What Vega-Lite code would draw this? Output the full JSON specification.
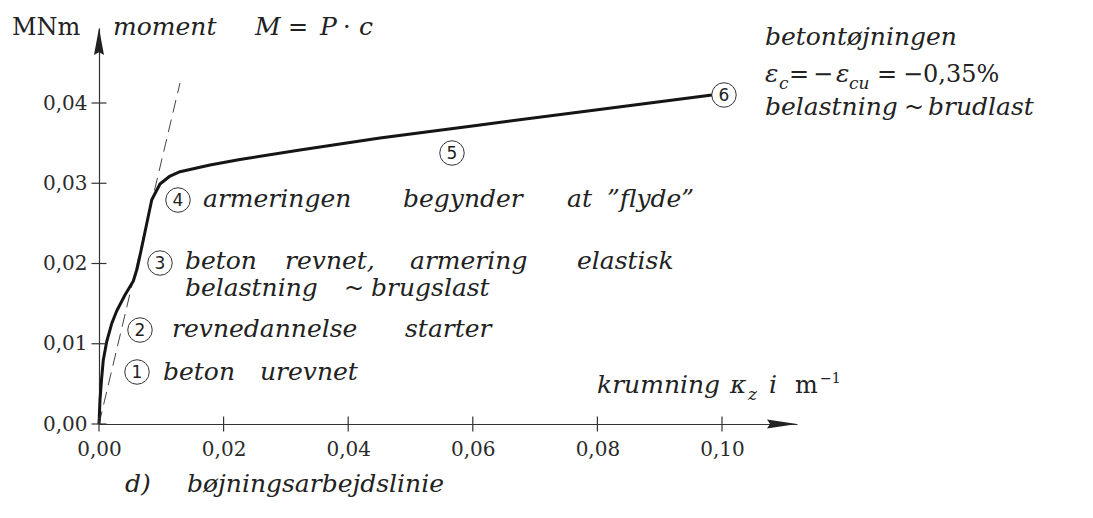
{
  "$schema": "https://vega.github.io/schema/vega-lite/v6.json",
  "width": 698,
  "height": 396,
  "autosize": {"type": "none"},
  "padding": {"left": 99, "top": 28, "right": 296, "bottom": 94},
  "background": "white",
  "config": {
    "view": {"stroke": null},
    "text": {"font": "DejaVu Serif", "color": "#222"}
  },
  "datasets": {
    "curve": [
      {"x": 0, "y": 0},
      {"x": 0.00016, "y": 0.00299},
      {"x": 0.0004, "y": 0.00548},
      {"x": 0.00069, "y": 0.00798},
      {"x": 0.00124, "y": 0.01028},
      {"x": 0.00204, "y": 0.01252},
      {"x": 0.00284, "y": 0.01408},
      {"x": 0.00417, "y": 0.01607},
      {"x": 0.00551, "y": 0.01782},
      {"x": 0.00615, "y": 0.01944},
      {"x": 0.00711, "y": 0.02293},
      {"x": 0.00846, "y": 0.02791},
      {"x": 0.00872, "y": 0.02832},
      {"x": 0.00979, "y": 0.02991},
      {"x": 0.0114, "y": 0.0309},
      {"x": 0.013, "y": 0.03144},
      {"x": 0.01782, "y": 0.03227},
      {"x": 0.02263, "y": 0.03296},
      {"x": 0.03226, "y": 0.03414},
      {"x": 0.0451, "y": 0.03564},
      {"x": 0.06116, "y": 0.03726},
      {"x": 0.07721, "y": 0.03888},
      {"x": 0.09839, "y": 0.041}
    ],
    "guide": [
      {"x": 0, "y": 0},
      {"x": 0.013, "y": 0.04249}
    ],
    "xticks": [
      {"x": 0, "y": 0}, {"x": 0.02, "y": 0}, {"x": 0.04, "y": 0},
      {"x": 0.06, "y": 0}, {"x": 0.08, "y": 0}, {"x": 0.1, "y": 0}
    ],
    "yticks": [
      {"x": 0, "y": 0}, {"x": 0, "y": 0.01}, {"x": 0, "y": 0.02},
      {"x": 0, "y": 0.03}, {"x": 0, "y": 0.04}
    ],
    "yarrow": [{"x": 0, "y": 0.049346}],
    "xarrow": [{"x": 0.11204, "y": 0}],
    "rings": [
      {"x": 0.0061, "y": 0.00648, "n": "1"},
      {"x": 0.00658, "y": 0.01171, "n": "2"},
      {"x": 0.00979, "y": 0.02006, "n": "3"},
      {"x": 0.01268, "y": 0.02791, "n": "4"},
      {"x": 0.05666, "y": 0.03377, "n": "5"},
      {"x": 0.10032, "y": 0.041, "n": "6"}
    ],
    "italic": [
      {"x": 0.01027, "y": 0.00548, "t": "beton"},
      {"x": 0.02584, "y": 0.00548, "t": "urevnet"},
      {"x": 0.01172, "y": 0.01084, "t": "revnedannelse"},
      {"x": 0.04912, "y": 0.01084, "t": "starter"},
      {"x": 0.0138, "y": 0.01931, "t": "beton"},
      {"x": 0.02986, "y": 0.01931, "t": "revnet,"},
      {"x": 0.04992, "y": 0.01931, "t": "armering"},
      {"x": 0.07673, "y": 0.01931, "t": "elastisk"},
      {"x": 0.0138, "y": 0.01595, "t": "belastning"},
      {"x": 0.04366, "y": 0.01595, "t": "brugslast"},
      {"x": 0.01669, "y": 0.02704, "t": "armeringen"},
      {"x": 0.0488, "y": 0.02704, "t": "begynder"},
      {"x": 0.07512, "y": 0.02704, "t": "at"},
      {"x": 0.08154, "y": 0.02704, "t": "”flyde”"},
      {"x": 0.1069, "y": 0.04723, "t": "betontøjningen"},
      {"x": 0.1069, "y": 0.04262, "t": "ε"},
      {"x": 0.1183, "y": 0.04262, "t": "ε"},
      {"x": 0.1069, "y": 0.0385, "t": "belastning"},
      {"x": 0.13307, "y": 0.0385, "t": "brudlast"},
      {"x": 0.00225, "y": 0.04847, "t": "moment"},
      {"x": 0.02504, "y": 0.04847, "t": "M"},
      {"x": 0.03547, "y": 0.04847, "t": "P"},
      {"x": 0.04173, "y": 0.04847, "t": "c"},
      {"x": 0.07994, "y": 0.00386, "t": "krumning"},
      {"x": 0.10128, "y": 0.00386, "t": "κ"},
      {"x": 0.10754, "y": 0.00386, "t": "i"},
      {"x": 0.00417, "y": -0.00847, "t": "d)"},
      {"x": 0.01413, "y": -0.00847, "t": "bøjningsarbejdslinie"}
    ],
    "roman": [
      {"x": -0.01396, "y": 0.04847, "t": "MNm"},
      {"x": 0.03034, "y": 0.04847, "t": "="},
      {"x": 0.03917, "y": 0.04847, "t": "·"},
      {"x": 0.03932, "y": 0.01595, "t": "~"},
      {"x": 0.12921, "y": 0.0385, "t": "~"},
      {"x": 0.11075, "y": 0.04262, "t": "="},
      {"x": 0.11461, "y": 0.04262, "t": "−"},
      {"x": 0.12488, "y": 0.04262, "t": "="},
      {"x": 0.12905, "y": 0.04262, "t": "−0,35%"},
      {"x": 0.11172, "y": 0.00386, "t": "m"}
    ],
    "sub": [
      {"x": 0.10915, "y": 0.04174, "t": "c"},
      {"x": 0.12039, "y": 0.04174, "t": "cu"},
      {"x": 0.10417, "y": 0.00299, "t": "z"}
    ],
    "sup": [
      {"x": 0.11573, "y": 0.00511, "t": "−1"}
    ]
  },
  "encoding": {
    "x": {
      "field": "x",
      "type": "quantitative",
      "scale": {"domain": [0, 0.11204], "nice": false, "zero": false},
      "axis": {
        "values": [0, 0.02, 0.04, 0.06, 0.08, 0.1],
        "labelExpr": "replace(format(datum.value, '.2f'), '.', ',')",
        "ticks": false,
        "tickSize": 0,
        "labelPadding": 15,
        "labelFont": "DejaVu Serif",
        "labelFontSize": 20,
        "labelColor": "#2a2a2a",
        "labelFlush": false,
        "labelOverlap": false,
        "domainColor": "#333",
        "domainWidth": 1.2,
        "grid": false,
        "title": null
      }
    },
    "y": {
      "field": "y",
      "type": "quantitative",
      "scale": {"domain": [0, 0.049346], "nice": false, "zero": false},
      "axis": {
        "values": [0, 0.01, 0.02, 0.03, 0.04],
        "labelExpr": "replace(format(datum.value, '.2f'), '.', ',')",
        "ticks": false,
        "tickSize": 0,
        "labelPadding": 12,
        "labelFont": "DejaVu Serif",
        "labelFontSize": 20,
        "labelColor": "#2a2a2a",
        "labelFlush": false,
        "labelOverlap": false,
        "domainColor": "#333",
        "domainWidth": 1.2,
        "grid": false,
        "title": null
      }
    }
  },
  "layer": [
    {
      "data": {"name": "guide"},
      "mark": {"type": "line", "strokeDash": [13, 7], "strokeWidth": 1, "color": "#444"}
    },
    {
      "data": {"name": "curve"},
      "mark": {"type": "line", "strokeWidth": 3, "color": "#151515", "strokeJoin": "round"}
    },
    {
      "data": {"name": "xticks"},
      "mark": {"type": "tick", "orient": "vertical", "size": 15, "thickness": 1.2, "color": "#333", "opacity": 1}
    },
    {
      "data": {"name": "yticks"},
      "mark": {"type": "tick", "orient": "horizontal", "size": 15, "thickness": 1.2, "color": "#333", "opacity": 1}
    },
    {
      "data": {"name": "yarrow"},
      "mark": {"type": "point", "shape": "M0,0L0.37,2L0,1.8L-0.37,2Z", "size": 729, "filled": true, "color": "#222", "opacity": 1}
    },
    {
      "data": {"name": "xarrow"},
      "mark": {"type": "point", "shape": "M0,0L-2,-0.3L-1.8,0L-2,0.3Z", "size": 900, "filled": true, "color": "#222", "opacity": 1}
    },
    {
      "data": {"name": "rings"},
      "mark": {"type": "point", "shape": "circle", "size": 600, "filled": false, "stroke": "#333", "strokeWidth": 1, "opacity": 1}
    },
    {
      "data": {"name": "rings"},
      "mark": {"type": "text", "font": "DejaVu Sans", "fontSize": 17, "align": "center", "baseline": "middle", "dy": 1, "color": "#222"},
      "encoding": {"text": {"field": "n"}}
    },
    {
      "data": {"name": "italic"},
      "mark": {"type": "text", "fontStyle": "italic", "fontSize": 25, "align": "left", "baseline": "alphabetic"},
      "encoding": {"text": {"field": "t"}}
    },
    {
      "data": {"name": "roman"},
      "mark": {"type": "text", "fontSize": 24, "align": "left", "baseline": "alphabetic"},
      "encoding": {"text": {"field": "t"}}
    },
    {
      "data": {"name": "sub"},
      "mark": {"type": "text", "fontStyle": "italic", "fontSize": 17, "align": "left", "baseline": "alphabetic"},
      "encoding": {"text": {"field": "t"}}
    },
    {
      "data": {"name": "sup"},
      "mark": {"type": "text", "fontSize": 14, "align": "left", "baseline": "alphabetic"},
      "encoding": {"text": {"field": "t"}}
    }
  ]
}
